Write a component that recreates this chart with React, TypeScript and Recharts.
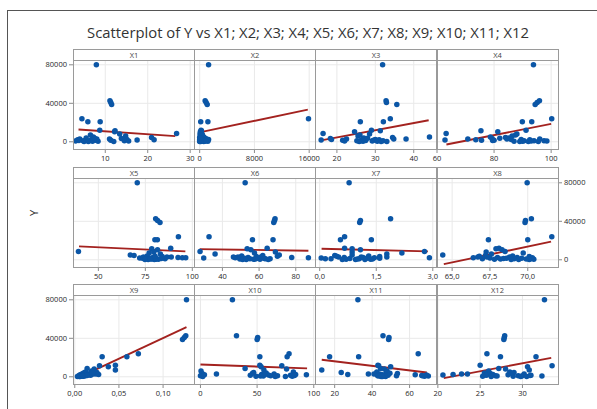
import React from 'react';
import { ScatterChart, Scatter, XAxis, YAxis, CartesianGrid } from 'recharts';

const panelNames = ['X1', 'X2', 'X3', 'X4', 'X5', 'X6', 'X7', 'X8', 'X9', 'X10', 'X11', 'X12'];

const yValues = [80000, 42600, 40800, 38800, 24000, 20700, 20700, 12000, 11500, 10500,
  8700, 8000, 7000, 6000, 5000, 4500, 4000, 3500, 3000, 3000,
  2500, 2500, 2000, 2000, 1800, 1500, 1500, 1200, 1000, 1000,
  800, 600, 500, 400, 300, 200, 2800, 1300, 700, 3800];

const x1Values = [7.9, 11.1, 11.3, 11.5, 4.5, 5.9, 8.8, 8.7, 12.3, 12.2, 26.8, 13.4,
  6.5, 14.8, 7.2, 20.9, 5.5, 13.8, 11.0, 4.0, 15.1, 6.8, 21.5, 3.5, 17.5, 11.3, 7.8, 4.8, 6.2, 14.5, 3.0, 8.3, 7.0, 5.0, 12.0, 6.0, 8.0, 3.8, 15.5, 7.5];
const x2Values = [1300, 800, 950, 1100, 15900, 150, 1200, 200, 250, 100, 300, 50, 400, 100, 600, 0, 200, 900, 50, 300,
  1300, 100, 700, 0, 1000, 200, 500, 0, 800, 100, 300, 1200, 50, 600, 150, 0, 250, 400, 900, 50];
const x3Values = [31.9, 32.8, 32.9, 35.6, 33.9, 26.1, 32.1, 29.0, 31.3, 24.6, 16.4, 28.5,
  26.0, 25.5, 44.1, 34.5, 27.0, 18.3, 38.0, 22.5, 18.6, 30.0, 26.5, 31.0, 15.9, 21.5, 29.5, 25.2, 32.0, 26.2, 22.0, 30.5, 26.8, 33.0, 25.8, 31.5, 34.8, 27.5, 29.2, 28.0];
const x4Values = [93.8, 95.9, 95.1, 94.4, 100.2, 89.9, 93.2, 91.2, 75.4, 81.3, 63.2, 88.0,
  87.5, 86.3, 78.7, 84.0, 85.2, 79.3, 70.8, 96.0, 86.0, 89.5, 73.6, 92.5, 62.8, 75.6, 80.0, 90.5, 97.5, 94.0, 98.5, 90.0, 87.0, 92.0, 89.0, 95.5, 84.5, 79.5, 93.0, 82.0];
const x5Values = [70.7, 80.5, 81.5, 82.8, 92.6, 80.1, 81.4, 88.5, 78.4, 81.5, 39.4, 79.5,
  77, 83, 67, 69, 76, 84, 88.8, 74, 92.4, 79, 94.7, 96.5, 72, 73.5, 77.5, 81, 75, 85.5, 78.5, 80.5, 82, 76.5, 79.8, 74.8, 86.5, 83.5, 77.8, 80.2];
const x6Values = [52.4, 68.7, 68.4, 68.0, 32.7, 56.4, 67.6, 64.4, 53.5, 55.5, 27.8, 68.9,
  57.5, 36.0, 71.0, 62.0, 50.5, 58.5, 61.0, 48.5, 77.8, 54.0, 86.9, 47.0, 29.8, 59.5, 52.0, 63.5, 55.0, 66.0, 49.5, 60.5, 57.0, 51.0, 65.0, 53.0, 46.0, 62.8, 58.0, 70.0];
const x7Values = [0.78, 1.88, 1.08, 1.06, 0.66, 0.55, 1.37, 0.66, 0.86, 1.08, 2.78, 0.86,
  2.18, 1.78, 0.86, 0.40, 1.30, 1.59, 0.50, 1.78, 1.15, 0.65, 2.91, 1.45, 0.04, 1.25, 1.59, 0.15, 1.05, 0.30, 1.40, 0.70, 1.35, 0.60, 1.20, 0.95, 1.10, 0.80, 1.00, 0.45];
const x8Values = [69.96, 70.24, 69.85, 69.82, 71.59, 67.4, 70.0, 68.1, 67.9, 68.3, 68.5, 67.25,
  69.7, 67.6, 64.38, 67.2, 69.0, 70.1, 66.7, 68.8, 69.3, 68.0, 70.3, 66.4, 67.5, 69.6, 68.6, 70.2, 67.0, 69.1, 68.2, 70.4, 67.8, 69.4, 68.9, 70.1, 67.3, 68.4, 69.9, 66.8];
const x9Values = [0.1265, 0.1257, 0.124, 0.122, 0.072, 0.059, 0.031, 0.046, 0.028, 0.038, 0.014, 0.022,
  0.046, 0.019, 0.012, 0.025, 0.010, 0.017, 0.008, 0.021, 0.013, 0.027, 0.006, 0.016, 0.011, 0.009, 0.018, 0.007, 0.005, 0.012, 0.004, 0.010, 0.008, 0.006, 0.005, 0.003, 0.024, 0.014, 0.009, 0.020];
const x10Values = [28.2, 31.8, 50.5, 50.0, 78.2, 76.5, 52.4, 52.4, 71.8, 53.5, 39.4, 76.0,
  56.0, 0.5, 82.0, 47.0, 58.0, 1.5, 65.0, 14.1, 84.0, 54.0, 93.5, 3.5, 60.0, 44.0, 79.5, 62.0, 0.0, 68.0, 55.5, 81.0, 49.0, 2.0, 75.0, 66.0, 57.0, 83.0, 53.0, 46.0];
const x11Values = [32.4, 45.8, 49.0, 48.8, 64.6, 17.3, 32.8, 43.1, 43.5, 49.9, 44.5, 46.5,
  13.1, 48.0, 42.5, 23.5, 47.5, 53.5, 43.8, 38.0, 27.0, 45.0, 63.0, 46.8, 69.0, 42.8, 48.5, 67.0, 44.2, 53.0, 70.0, 46.2, 68.0, 44.8, 47.2, 45.5, 41.0, 66.5, 43.2, 49.5];
const x12Values = [32.6, 27.9, 27.85, 27.8, 25.8, 31.6, 27.4, 25.0, 33.5, 30.6, 27.2, 28.0,
  30.8, 26.0, 28.5, 29.0, 25.5, 26.2, 22.8, 30.2, 21.8, 26.5, 28.3, 25.8, 20.6, 31.0, 25.7, 30.0, 29.5, 26.8, 32.3, 25.3, 28.9, 30.5, 26.3, 29.8, 23.5, 30.9, 27.0, 28.7];

const xValueSets = [x1Values, x2Values, x3Values, x4Values, x5Values, x6Values, x7Values, x8Values, x9Values, x10Values, x11Values, x12Values];

const xTickValues = [[10, 20, 30], [0, 8000, 16000], [20, 30, 40], [60, 80, 100], [50, 75, 100], [40, 60, 80],
  [0, 1.5, 3], [65, 67.5, 70], [0, 0.05, 0.1], [0, 50, 100], [20, 40, 60], [20, 25, 30]];
const xTickLabels = [['10', '20', '30'], ['0', '8000', '16000'], ['20', '30', '40'], ['60', '80', '100'], ['50', '75', '100'], ['40', '60', '80'],
  ['0,0', '1,5', '3,0'], ['65,0', '67,5', '70,0'], ['0,00', '0,05', '0,10'], ['0', '50', '100'], ['20', '40', '60'], ['20', '25', '30']];
const xDomains = [[2.4, 30.9], [-830, 16850], [14.3, 45.8], [60, 102.4], [36.5, 100.9], [24.5, 90.5],
  [-0.125, 3.085], [64, 72], [-0.002, 0.135], [-5.7, 101.1], [9.5, 74.1], [19.9, 34.2]];

const yTickValues = [0, 40000, 80000];
const yTickLabels = ['0', '40000', '80000'];
const yDomain = [-7500, 85000];

const fitStartX = [3.7, 150, 15.9, 63.3, 39.7, 27.6, 0.05, 64.45, 0.003, 0, 13.1, 20.7];
const fitStartY = [12760, 10000, 1400, -2800, 13900, 11100, 11500, -4500, -1400, 12800, 17700, -1400];
const fitEndX = [26.5, 15800, 43.9, 100, 96.3, 86.9, 2.87, 71.54, 0.1265, 94.1, 69.2, 33.4];
const fitEndY = [5860, 33400, 22400, 18600, 8700, 9400, 8700, 18800, 51600, 8700, 4500, 19700];

const FONT = '"Open Sans", "Noto Sans", sans-serif';
const colLeft = [73, 194, 315, 436.5];
const stripTop = [49, 167, 284];
const PLOT_W = 121;
const STRIP_H = 11;
const PLOT_H = 89;
const AXIS_W = 40;
const PAD = 16;
const XAXIS_H = 20;
const DOT = '#0B56A6';
const FIT = '#A3221F';
const FRAME = '#9a9a9a';
const TICK_TEXT = '#262626';

function Panel({ i }: { i: number }) {
  const r = Math.floor(i / 4);
  const c = i % 4;
  const hasLeft = (r === 0 || r === 2) && c === 0;
  const hasRight = r === 1 && c === 3;
  const plotLeft = colLeft[c];
  const plotTop = stripTop[r] + STRIP_H;
  const leftSpace = hasLeft ? AXIS_W : PAD;
  const rightSpace = hasRight ? AXIS_W : PAD;
  const width = PLOT_W + leftSpace + rightSpace;
  const height = PLOT_H + XAXIS_H;
  const data = yValues.map((y, k) => ({ x: xValueSets[i][k], y }));
  const fit = [{ x: fitStartX[i], y: fitStartY[i] }, { x: fitEndX[i], y: fitEndY[i] }];
  const labels = xTickLabels[i];
  const ticks = xTickValues[i];
  const fmtX = (v: number) => {
    const idx = ticks.findIndex((t) => Math.abs(t - v) < 1e-9);
    return idx >= 0 ? labels[idx] : String(v);
  };
  const fmtY = (v: number) => {
    const idx = yTickValues.indexOf(v);
    return idx >= 0 ? yTickLabels[idx] : String(v);
  };
  return (
    <div style={{ position: 'absolute', left: plotLeft - leftSpace, top: plotTop }}>
      <ScatterChart
        width={width}
        height={height}
        margin={{ top: 0, bottom: 0, left: hasLeft ? 0 : PAD, right: hasRight ? 0 : PAD }}
      >
        <CartesianGrid
          stroke="#e9e9e9"
          strokeWidth={1}
          horizontalValues={yTickValues}
          verticalValues={ticks}
        />
        <XAxis
          type="number"
          dataKey="x"
          domain={xDomains[i]}
          ticks={ticks}
          interval={0}
          allowDataOverflow
          axisLine={false}
          tickLine={{ stroke: '#8a8a8a' }}
          tickSize={4}
          tickMargin={3}
          height={XAXIS_H}
          tickFormatter={fmtX}
          tick={{ fontSize: 7.5, fill: TICK_TEXT, fontFamily: FONT }}
        />
        <YAxis
          type="number"
          dataKey="y"
          domain={yDomain}
          ticks={yTickValues}
          interval={0}
          allowDataOverflow
          hide={!(hasLeft || hasRight)}
          orientation={hasRight ? 'right' : 'left'}
          width={AXIS_W}
          axisLine={false}
          tickLine={{ stroke: '#8a8a8a' }}
          tickSize={4}
          tickMargin={2}
          tickFormatter={fmtY}
          tick={{ fontSize: 7.5, fill: TICK_TEXT, fontFamily: FONT }}
        />
        <Scatter
          data={fit}
          isAnimationActive={false}
          line={{ stroke: FIT, strokeWidth: 1.9 }}
          shape={() => <g />}
        />
        <Scatter
          data={data}
          isAnimationActive={false}
          shape={(p: any) => <circle cx={p.cx} cy={p.cy} r={2.75} fill={DOT} />}
        />
      </ScatterChart>
    </div>
  );
}

function Frame({ i }: { i: number }) {
  const r = Math.floor(i / 4);
  const c = i % 4;
  return (
    <div
      style={{
        position: 'absolute',
        left: colLeft[c],
        top: stripTop[r],
        width: PLOT_W + 1,
        height: STRIP_H + PLOT_H + 1,
        border: `1px solid ${FRAME}`,
        boxSizing: 'border-box',
        pointerEvents: 'none',
      }}
    >
      <div
        style={{
          height: STRIP_H,
          borderBottom: `1px solid ${FRAME}`,
          boxSizing: 'border-box',
          textAlign: 'center',
          fontFamily: FONT,
          fontSize: 7.5,
          lineHeight: `${STRIP_H - 1}px`,
          color: '#444',
        }}
      >
        {panelNames[i]}
      </div>
    </div>
  );
}

export default function App() {
  return (
    <div
      style={{
        position: 'absolute',
        left: 0,
        top: 0,
        width: 597,
        height: 409,
        overflow: 'hidden',
        background: '#fff',
      }}
    >
      <div
        style={{
          position: 'absolute',
          left: 7,
          top: 10,
          width: 640,
          height: 440,
          border: '1px solid #555',
        }}
      />
      <div
        style={{
          position: 'absolute',
          left: 0,
          width: 616,
          top: 22,
          textAlign: 'center',
          fontFamily: FONT,
          fontSize: 14.8,
          lineHeight: '20px',
          color: '#333',
        }}
      >
        Scatterplot of Y vs X1; X2; X3; X4; X5; X6; X7; X8; X9; X10; X11; X12
      </div>
      <div
        style={{
          position: 'absolute',
          left: 33,
          top: 213,
          transform: 'translate(-50%, -50%) rotate(-90deg)',
          fontFamily: FONT,
          fontSize: 11,
          color: '#333',
        }}
      >
        Y
      </div>
      {panelNames.map((_, i) => (
        <Panel key={`p${i}`} i={i} />
      ))}
      {panelNames.map((_, i) => (
        <Frame key={`f${i}`} i={i} />
      ))}
    </div>
  );
}
